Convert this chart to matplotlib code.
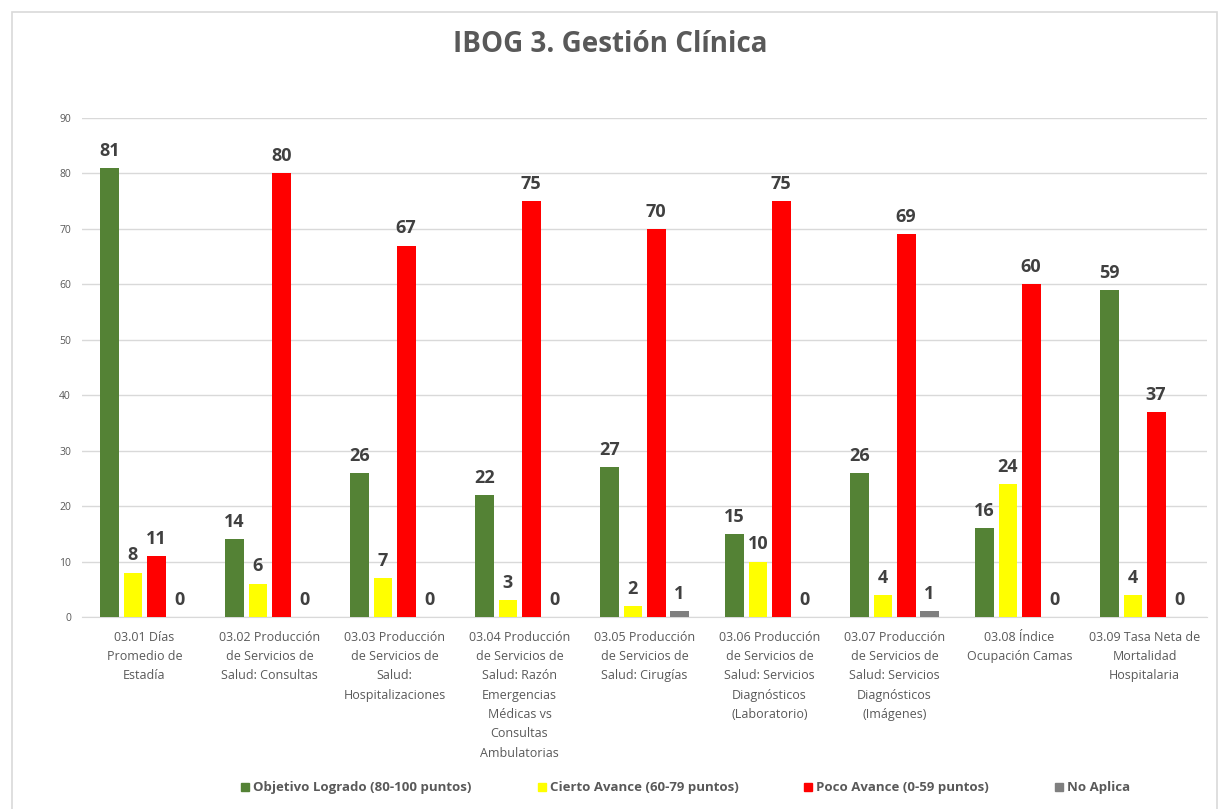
import matplotlib.pyplot as plt
import matplotlib.patches as mpatches
import numpy as np

plt.rcParams["font.family"] = ["Open Sans", "DejaVu Sans"]

categories = [
    "03.01 Días\nPromedio de\nEstadía",
    "03.02 Producción\nde Servicios de\nSalud: Consultas",
    "03.03 Producción\nde Servicios de\nSalud:\nHospitalizaciones",
    "03.04 Producción\nde Servicios de\nSalud: Razón\nEmergencias\nMédicas vs\nConsultas\nAmbulatorias",
    "03.05 Producción\nde Servicios de\nSalud: Cirugías",
    "03.06 Producción\nde Servicios de\nSalud: Servicios\nDiagnósticos\n(Laboratorio)",
    "03.07 Producción\nde Servicios de\nSalud: Servicios\nDiagnósticos\n(Imágenes)",
    "03.08 Índice\nOcupación Camas",
    "03.09 Tasa Neta de\nMortalidad\nHospitalaria",
]
objetivo = [81, 14, 26, 22, 27, 15, 26, 16, 59]
cierto = [8, 6, 7, 3, 2, 10, 4, 24, 4]
poco = [11, 80, 67, 75, 70, 75, 69, 60, 37]
no_aplica = [0, 0, 0, 0, 1, 0, 1, 0, 0]

series = [
    ("Objetivo Logrado (80-100 puntos)", objetivo, "#548235"),
    ("Cierto Avance (60-79 puntos)", cierto, "#FFFF00"),
    ("Poco Avance (0-59 puntos)", poco, "#FF0000"),
    ("No Aplica", no_aplica, "#7F7F7F"),
]

fig = plt.figure(figsize=(12.2, 8.09), dpi=100)
# chart frame
fig.patches.append(mpatches.Rectangle((12 / 1220, -0.01), 1205 / 1220, 1 - 12 / 809 + 0.01,
                                      transform=fig.transFigure, fill=False,
                                      edgecolor="#d9d9d9", linewidth=1.2))
ax = fig.add_axes([82 / 1220, 1 - 617 / 809, 1125 / 1220, 499 / 809])

x = np.arange(len(categories))
step = 0.186
width = 0.15
for i, (name, vals, color) in enumerate(series):
    pos = x + (i - 1.5) * step
    ax.bar(pos, vals, width=width, color=color, label=name, zorder=3)
    for p, v in zip(pos, vals):
        ax.text(p, v + 1.5, str(v), ha="center", va="bottom", fontsize=13,
                fontweight="bold", color="#404040")

ax.set_ylim(0, 90)
ax.set_xlim(-0.5, len(categories) - 0.5)
ax.set_yticks(range(0, 91, 10))
ax.yaxis.grid(True, color="#d9d9d9", linewidth=1, zorder=0)
ax.set_axisbelow(True)
for s in ["top", "right", "left"]:
    ax.spines[s].set_visible(False)
ax.spines["bottom"].set_color("#d9d9d9")
ax.tick_params(axis="y", length=0, labelsize=7.5, labelcolor="#595959", pad=8)
ax.tick_params(axis="x", length=0, labelsize=9, labelcolor="#595959", pad=10)
ax.set_xticks(x)
ax.set_xticklabels(categories, linespacing=1.63)

fig.text(0.5, 1 - 45 / 809, "IBOG 3. Gestión Clínica", ha="center", va="center",
         fontsize=20, fontweight="bold", color="#595959")

handles = [mpatches.Patch(color=c, label=n) for n, _, c in series]
leg = fig.legend(handles=handles, loc="center", bbox_to_anchor=(0.562, 1 - 788 / 809),
                 ncol=4, frameon=False, handlelength=0.6, handleheight=0.6,
                 handletextpad=0.3, columnspacing=5.0, prop={"size": 9.5, "weight": "bold"})
for t in leg.get_texts():
    t.set_color("#595959")

fig.savefig("out.png", dpi=100)
